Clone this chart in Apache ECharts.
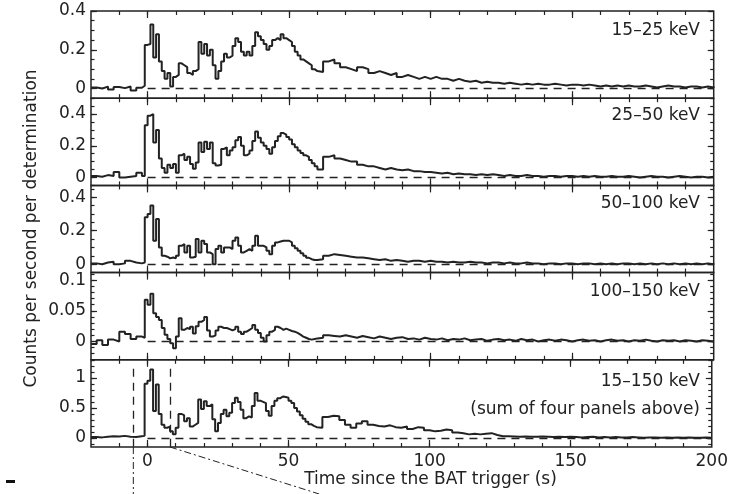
<!DOCTYPE html>
<html><head><meta charset="utf-8">
<script src="https://cdn.jsdelivr.net/npm/echarts@6/dist/echarts.min.js"></script>
<style>html,body{margin:0;padding:0;background:#fff}#c{width:731px;height:494px}</style>
</head><body><div id="c"></div>
<script>
// ---- time bins (s since BAT trigger) ----
const timePre = [-20,-18,-16,-14,-12,-10,-8,-6,-4,-2];
const timeMain = [-1,0,1,2,3,4,5,6,7,8,9,10,11,12,13,14,15,16,17,18,19,20,21,22,23,24,25,26,27,28,29,30,
  31,32,33,34,35,36,37,38,39,40,41,42,43,44,45,46,47,48,49,50,51,52,53,54,55,56,57,58,59,60];
const timeTail = [62,64,66,68,70,72,74,76,78,80,82,84,86,88,90,92,94,96,98,100,102,104,106,108,110,112,114,116,118,120,
  122,124,126,128,130,132,134,136,138,140,142,144,146,148,150,152,154,156,158,160,162,164,166,168,170,172,174,176,178,180,
  182,184,186,188,190,192,194,196,198,200];

// ---- 15–25 keV ----
const band1 = [0.005,0.0,0.01,-0.005,0.008,0.002,0.01,-0.01,0.004,0.014,
  0.225,0.23,0.33,0.16,0.28,0.14,0.09,0.05,0.08,0.01,
  0.06,0.07,0.13,0.12,0.11,0.08,0.07,0.09,0.10,0.24,
  0.18,0.23,0.17,0.20,0.12,0.05,0.09,0.14,0.18,0.16,
  0.17,0.22,0.26,0.24,0.19,0.17,0.19,0.17,0.22,0.29,
  0.27,0.25,0.23,0.20,0.22,0.25,0.26,0.25,0.28,0.26,
  0.25,0.24,0.22,0.19,0.17,0.15,0.14,0.13,0.12,0.10,
  0.09,0.085,
  0.14,0.15,0.13,0.11,0.10,0.09,0.11,0.10,0.08,0.09,
  0.08,0.07,0.08,0.06,0.07,0.06,0.05,0.06,0.05,0.06,
  0.05,0.05,0.04,0.05,0.04,0.035,0.04,0.03,0.035,0.03,
  0.03,0.025,0.03,0.025,0.02,0.025,0.02,0.025,0.02,0.02,
  0.025,0.02,0.015,0.02,0.02,0.015,0.02,0.015,0.01,0.015,
  0.01,0.015,0.01,0.015,0.01,0.01,0.015,0.01,0.005,0.01,
  0.015,0.01,0.01,0.005,0.01,0.01,0.005,0.01,0.005,0.01];
// ---- 25–50 keV ----
const band2 = [0.01,0.005,0.015,0.01,0.035,0.0,0.005,0.01,0.03,0.01,
  0.33,0.39,0.40,0.22,0.30,0.12,0.06,0.03,0.08,0.06,
  0.085,0.03,0.14,0.15,0.11,0.13,0.085,0.055,0.095,0.22,
  0.16,0.225,0.18,0.22,0.09,0.075,0.08,0.18,0.19,0.14,
  0.17,0.19,0.235,0.255,0.20,0.14,0.15,0.17,0.23,0.29,
  0.25,0.22,0.20,0.18,0.15,0.19,0.23,0.26,0.28,0.27,
  0.255,0.24,0.21,0.19,0.17,0.155,0.14,0.13,0.11,0.09,
  0.07,0.05,
  0.13,0.14,0.12,0.11,0.10,0.10,0.08,0.07,0.07,0.06,
  0.05,0.06,0.05,0.045,0.05,0.04,0.04,0.035,0.035,0.03,
  0.025,0.03,0.02,0.025,0.02,0.02,0.015,0.02,0.015,0.02,
  0.015,0.01,0.015,0.01,0.01,0.015,0.01,0.01,0.005,0.01,
  0.01,0.005,0.01,0.01,0.005,0.01,0.005,0.01,0.005,0.005,
  0.01,0.005,0.005,0.01,0.005,0.0,0.005,0.01,0.005,0.005,
  0.0,0.005,0.01,0.005,0.0,0.005,0.005,0.0,0.005,0.005];
// ---- 50–100 keV ----
const band3 = [0.005,0.0,0.01,0.015,0.0,0.005,0.02,0.01,0.005,0.01,
  0.28,0.30,0.35,0.14,0.27,0.10,0.05,0.045,0.035,0.04,
  0.035,0.05,0.11,0.12,0.07,0.11,0.04,0.045,0.15,0.07,
  0.14,0.12,0.07,0.06,0.0,0.09,0.11,0.07,0.10,0.10,
  0.09,0.14,0.16,0.11,0.07,0.08,0.09,0.08,0.11,0.17,
  0.11,0.11,0.10,0.08,0.06,0.11,0.13,0.135,0.14,0.14,
  0.14,0.13,0.11,0.095,0.08,0.065,0.05,0.038,0.03,0.025,
  0.025,0.03,
  0.05,0.06,0.055,0.05,0.045,0.04,0.04,0.035,0.03,0.025,
  0.03,0.02,0.025,0.02,0.015,0.02,0.02,0.015,0.02,0.015,
  0.015,0.01,0.015,0.01,0.01,0.015,0.01,0.01,0.005,0.01,
  0.01,0.005,0.01,0.005,0.005,0.01,0.005,0.005,0.0,0.005,
  0.005,0.0,0.005,0.005,0.0,0.005,0.005,0.0,0.005,0.0,
  0.005,0.0,0.005,0.005,0.0,0.005,0.0,0.005,0.0,0.005,
  0.0,0.005,0.0,0.005,0.0,0.005,0.0,0.005,0.0,0.005];
// ---- 100–150 keV ----
const band4 = [-0.004,0.002,-0.006,0.003,0.0,0.016,0.012,0.004,0.008,0.006,
  0.068,0.06,0.078,0.046,0.04,0.035,0.022,0.011,0.004,-0.003,
  -0.011,0.008,0.038,0.019,0.022,0.02,0.024,0.013,0.025,0.032,
  0.035,0.04,0.018,0.008,0.01,0.018,0.024,0.022,0.022,0.02,
  0.018,0.02,0.024,0.016,0.012,0.016,0.019,0.022,0.027,0.019,
  0.014,0.006,0.0,0.01,0.016,0.019,0.024,0.022,0.019,0.021,
  0.019,0.017,0.016,0.014,0.011,0.008,0.006,0.004,0.003,0.004,
  0.005,0.006,
  0.01,0.009,0.008,0.01,0.008,0.006,0.009,0.007,0.005,0.008,
  0.006,0.004,0.006,0.007,0.004,0.005,0.003,0.006,0.004,0.003,
  0.005,0.002,0.004,0.003,0.005,0.002,0.003,0.004,0.001,0.003,
  0.004,0.002,0.003,0.001,0.004,0.002,0.003,0.0,0.002,0.003,
  0.001,0.003,0.002,0.0,0.002,0.003,0.001,0.002,0.0,0.002,
  0.003,0.001,0.002,0.0,0.002,0.001,0.003,0.001,0.0,0.002,
  0.001,0.002,0.0,0.002,0.001,0.0,0.002,0.001,0.0,0.001];
// ---- 15–150 keV (sum of four panels above) ----
const band5 = [0.015,0.01,0.02,0.03,0.025,0.035,0.02,0.015,0.03,0.035,
  0.90,0.95,1.14,0.45,0.89,0.40,0.22,0.17,0.19,0.11,
  0.06,0.17,0.40,0.38,0.28,0.33,0.19,0.22,0.25,0.64,
  0.48,0.61,0.53,0.56,0.31,0.11,0.25,0.40,0.47,0.36,
  0.42,0.58,0.67,0.60,0.47,0.33,0.36,0.34,0.53,0.75,
  0.62,0.60,0.58,0.45,0.37,0.53,0.62,0.66,0.69,0.68,
  0.67,0.62,0.58,0.50,0.44,0.38,0.32,0.27,0.23,0.20,
  0.18,0.17,
  0.35,0.37,0.36,0.30,0.22,0.17,0.24,0.28,0.22,0.20,
  0.19,0.21,0.18,0.17,0.19,0.15,0.18,0.17,0.13,0.11,
  0.12,0.14,0.13,0.09,0.08,0.06,0.07,0.06,0.07,0.08,
  0.05,0.03,0.03,0.025,0.02,0.025,0.02,0.02,0.025,0.02,
  0.015,0.02,0.015,0.02,0.015,0.01,0.015,0.02,0.01,0.015,
  0.01,0.015,0.01,0.01,0.015,0.01,0.005,0.01,0.01,0.005,
  0.01,0.005,0.01,0.005,0.01,0.005,0.005,0.01,0.005,0.005];

const bandNames = ['15–25 keV','25–50 keV','50–100 keV','100–150 keV','15–150 keV'];
const sumNote = '(sum of four panels above)';
const xLabelValues = [0,50,100,150,200];
const yLabelValues = [[0,0.2,0.4],[0,0.2,0.4],[0,0.2,0.4],[0,0.05,0.1],[0,0.5,1]];
const yRanges = [[-0.05,0.4],[-0.05,0.5],[-0.05,0.47],[-0.03,0.1125],[-0.15,1.3]];
const yMinorStep = [0.05,0.05,0.05,0.01,0.1];
const markTimes = [-5, 8];   // dashed interval markers in the summed panel
const yTitle = 'Counts per second per determination';
const xTitle = 'Time since the BAT trigger (s)';

// ---- layout ----
const FONT = '"DejaVu Sans", sans-serif';
const INK = '#222';
const gridTop = [11, 98.2, 185.4, 272.6, 359.8];
const gridH = 87.2, gridLeft = 91, gridW = 622.7;

const time = timePre.concat(timeMain, timeTail);
const bands = [band1, band2, band3, band4, band5];

function tickList(lo, hi, st) {
  const out = [];
  const k0 = Math.ceil(lo / st - 1e-9), k1 = Math.floor(hi / st + 1e-9);
  for (let k = k0; k <= k1; k++) out.push(Math.round(k * st * 1e6) / 1e6);
  return out;
}
const xMinor = tickList(-19, 199, 10);
const xMajor = [0, 50, 100, 150];

const chart = echarts.init(document.getElementById('c'), null, {renderer: 'canvas', width: 731, height: 494});
const grids = [], xAxes = [], yAxes = [], series = [];
const tickStyle = {color: INK, width: 1.2};

for (let g = 0; g < 5; g++) {
  grids.push({left: gridLeft, top: gridTop[g], width: gridW, height: gridH, show: true,
    borderColor: INK, borderWidth: 1.5, backgroundColor: 'rgba(0,0,0,0)'});
  const xb = {type: 'value', gridIndex: g, min: -20, max: 200, splitLine: {show: false},
    axisLine: {show: false, onZero: false}};
  xAxes.push(Object.assign({}, xb, {position: 'bottom',
    axisTick: {show: true, inside: true, length: 4, customValues: xMinor, lineStyle: tickStyle},
    axisLabel: g === 4 ? {show: true, customValues: xLabelValues, fontFamily: FONT, fontSize: 17, color: INK, margin: 6}
                       : {show: false}}));
  xAxes.push(Object.assign({}, xb, {position: 'bottom',
    axisTick: {show: true, inside: true, length: 7, customValues: xMajor, lineStyle: tickStyle}, axisLabel: {show: false}}));
  xAxes.push(Object.assign({}, xb, {position: 'top',
    axisTick: {show: true, inside: true, length: 4, customValues: xMinor, lineStyle: tickStyle}, axisLabel: {show: false}}));
  xAxes.push(Object.assign({}, xb, {position: 'top',
    axisTick: {show: true, inside: true, length: 7, customValues: xMajor, lineStyle: tickStyle}, axisLabel: {show: false}}));

  const [lo, hi] = yRanges[g];
  const yMinor = tickList(lo, hi, yMinorStep[g]);
  const yMajor = yLabelValues[g];
  const yb = {type: 'value', gridIndex: g, min: lo, max: hi, splitLine: {show: false},
    axisLine: {show: false, onZero: false}};
  yAxes.push(Object.assign({}, yb, {position: 'left',
    axisTick: {show: true, inside: true, length: 3.5, customValues: yMinor, lineStyle: tickStyle},
    axisLabel: {show: true, customValues: yMajor, fontFamily: FONT, fontSize: 17, color: INK, margin: 5,
      formatter: v => String(Math.round(v * 1000) / 1000)}}));
  yAxes.push(Object.assign({}, yb, {position: 'left',
    axisTick: {show: true, inside: true, length: 6, customValues: yMajor, lineStyle: tickStyle}, axisLabel: {show: false}}));
  yAxes.push(Object.assign({}, yb, {position: 'right',
    axisTick: {show: true, inside: true, length: 3.5, customValues: yMinor, lineStyle: tickStyle}, axisLabel: {show: false}}));
  yAxes.push(Object.assign({}, yb, {position: 'right',
    axisTick: {show: true, inside: true, length: 6, customValues: yMajor, lineStyle: tickStyle}, axisLabel: {show: false}}));

  const mlData = [[{coord: [0, 0]}, {coord: [200, 0]}]];
  if (g === 4) {
    markTimes.forEach(t => mlData.push([{coord: [t, 1.15]}, {coord: [t, lo]}]));
  }
  series.push({
    type: 'line', xAxisIndex: 4 * g, yAxisIndex: 4 * g, step: 'end', showSymbol: false, symbol: 'none',
    data: time.map((t, i) => [t, bands[g][i]]),
    lineStyle: {color: INK, width: 2}, animation: false, z: 3,
    markLine: {silent: true, symbol: 'none', animation: false, label: {show: false},
      lineStyle: {type: [8, 6], color: INK, width: 1.3}, data: mlData}
  });
}

chart.setOption({animation: false, backgroundColor: '#fff', grid: grids, xAxis: xAxes, yAxis: yAxes, series: series});

// annotations
const graphics = [];
const labelY = [31, 116, 204, 292, 382];
bandNames.forEach((n, g) => graphics.push({type: 'text', x: 700, y: labelY[g],
  style: {text: n, font: '17px ' + FONT, fill: INK, textAlign: 'right', textVerticalAlign: 'middle'}}));
graphics.push({type: 'text', x: 700, y: 410,
  style: {text: sumNote, font: '17px ' + FONT, fill: INK, textAlign: 'right', textVerticalAlign: 'middle'}});
graphics.push({type: 'text', x: 32, y: 228.5, rotation: Math.PI / 2,
  style: {text: yTitle, font: '17px ' + FONT, fill: INK, textAlign: 'center', textVerticalAlign: 'middle'}});
graphics.push({type: 'text', x: 430.5, y: 480,
  style: {text: xTitle, font: '17px ' + FONT, fill: INK, textAlign: 'center', textVerticalAlign: 'middle'}});
// dash-dot leader lines below the summed panel
const pA = chart.convertToPixel({xAxisIndex: 16, yAxisIndex: 16}, [markTimes[0], yRanges[4][0]]);
const pB = chart.convertToPixel({xAxisIndex: 16, yAxisIndex: 16}, [markTimes[1], yRanges[4][0]]);
graphics.push({type: 'line', shape: {x1: pA[0], y1: pA[1], x2: pA[0], y2: 494},
  style: {stroke: INK, lineWidth: 1, lineDash: [7, 3, 2, 3]}});
graphics.push({type: 'line', shape: {x1: pB[0], y1: pB[1], x2: pB[0] + (494 - pB[1]) / 0.315, y2: 494},
  style: {stroke: INK, lineWidth: 1, lineDash: [7, 3, 2, 3]}});
graphics.push({type: 'rect', shape: {x: 6, y: 480, width: 9, height: 3}, style: {fill: '#111'}});
chart.setOption({graphic: graphics});
</script></body></html>
